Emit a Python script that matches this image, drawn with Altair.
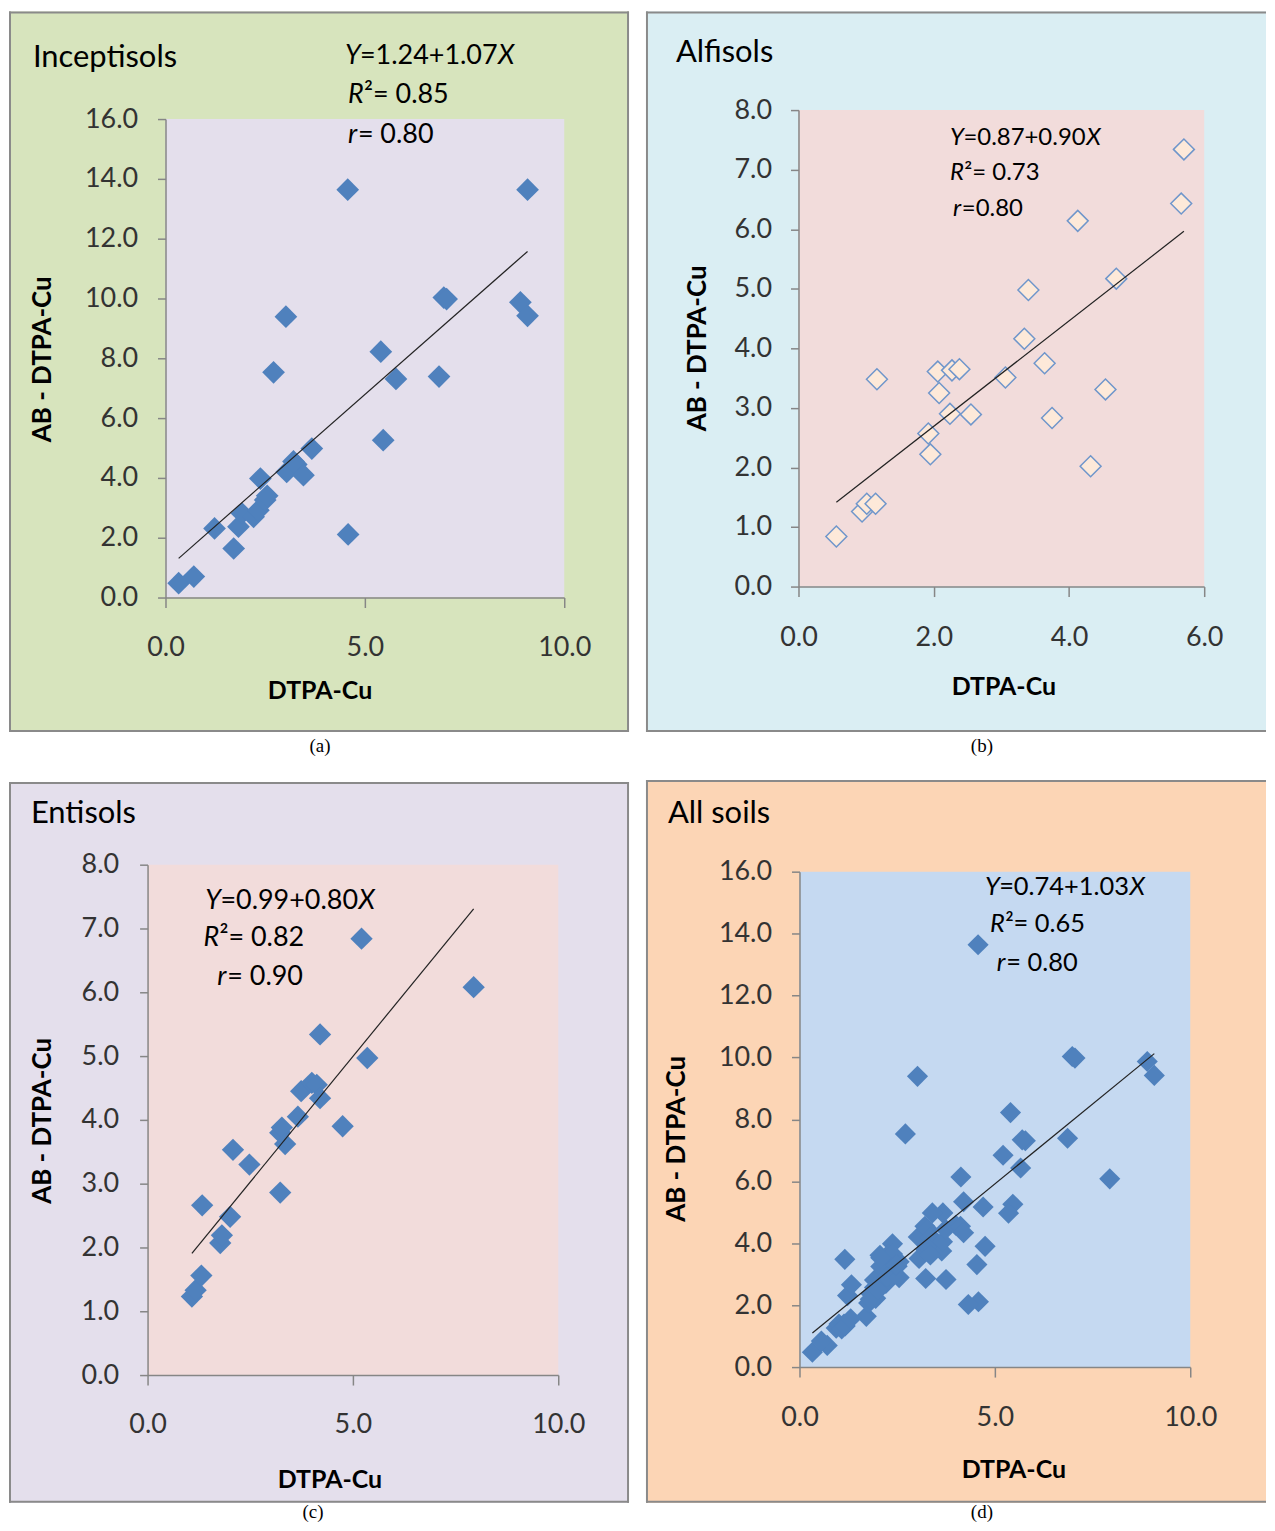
import altair as alt
import pandas as pd

# ---------------- data ----------------
# (a) Inceptisols
incept_x = [0.33, 0.71, 1.23, 1.71, 1.83, 1.92, 2.21, 2.33, 2.38, 2.50, 2.55, 2.71, 3.02, 3.04,
            3.21, 3.28, 3.46, 3.67, 4.57, 4.58, 5.40, 5.46, 5.78, 6.86, 6.98, 7.05, 8.90, 9.08, 9.08]
incept_y = [0.48, 0.70, 2.31, 1.64, 2.37, 2.81, 2.70, 2.92, 3.98, 3.26, 3.40, 7.53, 9.39, 4.20,
            4.55, 4.45, 4.09, 4.98, 13.64, 2.11, 8.22, 5.26, 7.31, 7.39, 10.03, 9.98, 9.87, 9.42, 13.64]
# (b) Alfisols
alfi_x = [0.56, 0.94, 1.01, 1.14, 1.16, 1.92, 1.95, 2.06, 2.08, 2.24, 2.27, 2.38, 2.55, 3.06,
          3.34, 3.40, 3.64, 3.75, 4.13, 4.32, 4.54, 4.70, 5.66, 5.70]
alfi_y = [0.84, 1.26, 1.39, 1.39, 3.48, 2.57, 2.22, 3.61, 3.25, 2.90, 3.63, 3.65, 2.89, 3.51,
          4.16, 4.98, 3.75, 2.83, 6.14, 2.02, 3.31, 5.17, 6.43, 7.34]
# (c) Entisols
enti_x = [1.08, 1.17, 1.31, 1.33, 1.77, 1.81, 2.01, 2.08, 2.48, 3.23, 3.23, 3.27, 3.35, 3.66,
          3.74, 4.00, 4.12, 4.20, 4.20, 4.75, 5.21, 5.35, 7.94]
enti_y = [1.23, 1.33, 1.56, 2.66, 2.07, 2.19, 2.48, 3.53, 3.30, 2.86, 3.80, 3.88, 3.62, 4.05,
          4.45, 4.58, 4.55, 4.34, 5.34, 3.90, 6.84, 4.97, 6.08]
# (d) All soils: the pooled samples (the Inceptisols point at 9.08 / 13.64 is not shown there)
all_x = incept_x[:-1] + alfi_x + enti_x
all_y = incept_y[:-1] + alfi_y + enti_y

# equation texts: (italic lead letter, rest, italic trailing letter)
EQ_A = [("Y", "=1.24+1.07", "X"), ("R", "²= 0.85", ""), ("r", "= 0.80", "")]
EQ_B = [("Y", "=0.87+0.90", "X"), ("R", "²= 0.73", ""), ("r", "=0.80", "")]
EQ_C = [("Y", "=0.99+0.80", "X"), ("R", "²= 0.82", ""), ("r", "= 0.90", "")]
EQ_D = [("Y", "=0.74+1.03", "X"), ("R", "²= 0.65", ""), ("r", "= 0.80", "")]

FONT = "Lato"
AX = "#868686"
BORDER = "#8A8A8A"
BLUE = "#4F81BD"
ONE = pd.DataFrame({"k": [0]})

# approximate Lato advance widths (em) used to chain italic/regular pieces
W_REG = {c: 0.58 for c in "0123456789=+"}
W_REG.update({".": 0.245, " ": 0.193, "²": 0.37})
W_IT = {"Y": 0.56, "R": 0.60, "X": 0.60, "r": 0.37}


def rect(x1, x2, y1, y2, **kw):
    return alt.Chart(ONE).mark_rect(**kw).encode(
        x=alt.value(x1), x2=alt.value(x2), y=alt.value(y1), y2=alt.value(y2))


def vline(x, y1, y2):
    return alt.Chart(ONE).mark_rule(color=BORDER, strokeWidth=2).encode(
        x=alt.value(x), y=alt.value(y1), y2=alt.value(y2))


def hline(y, x1, x2):
    return alt.Chart(ONE).mark_rule(color=BORDER, strokeWidth=2).encode(
        y=alt.value(y), x=alt.value(x1), x2=alt.value(x2))


def label(txt, x, y, size, weight="normal", align="left", angle=0, font=FONT, style="normal"):
    return alt.Chart(ONE).mark_text(
        text=txt, font=font, fontSize=size, fontWeight=weight, fontStyle=style, align=align,
        baseline="middle", angle=angle, color="black").encode(
        x=alt.value(x), y=alt.value(y))


def equation(parts, x, y, fs):
    lead, rest, tail = parts
    out = [label(lead, x, y, fs, style="italic")]
    x2 = x + W_IT[lead] * fs
    out.append(label(rest, x2, y, fs))
    if tail:
        x3 = x2 + sum(W_REG.get(ch, 0.55) for ch in rest) * fs
        out.append(label(tail, x3, y, fs, style="italic"))
    return out


def panel(xs, ys, p):
    df = pd.DataFrame({"x": xs, "y": ys})
    w, h = p["w"], p["h"]
    px0, px1, py0, py1 = p["plot"]
    xsc = alt.Scale(domain=p["xdom"], nice=False, zero=True, range=[px0, px1])
    ysc = alt.Scale(domain=p["ydom"], nice=False, zero=True, range=[py1, py0])
    xax = alt.Axis(values=p["xticks"], format=".1f", title=None, grid=False,
                   tickSize=10, tickWidth=1.5, tickColor=AX, domainColor=AX, domainWidth=1.5,
                   labelFont=FONT, labelFontSize=27, labelColor="#333333",
                   labelPadding=p["xpad"], labelBaseline="middle", labelFlush=False,
                   labelOverlap=False, zindex=1)
    yax = alt.Axis(values=p["yticks"], format=".1f", title=None, grid=False,
                   tickSize=8, tickWidth=1.5, tickColor=AX, domainColor=AX, domainWidth=1.5,
                   labelFont=FONT, labelFontSize=27, labelColor="#333333",
                   labelPadding=p["ypad"], labelAlign="right", labelBaseline="middle",
                   labelOverlap=False, offset=-px0, zindex=1)
    bL, bR, bT, bB = p["bound"]
    fL, fR, fT, fB = p["fill"]
    layers = [
        rect(bL, bR, bT, bB, opacity=0),
        rect(fL, fR, fT, fB, fill=p["outer_fill"]),
        vline(fL + 1, fT, fB),
        hline(fT + 1, fL, fR),
        hline(fB - 1, fL, fR),
    ]
    if p["right_border"]:
        layers.append(vline(fR - 1, fT, fB))
    layers.append(rect(px0, px1, py0, py1, fill=p["plot_fill"]))

    if p["hollow"]:
        pts = alt.Chart(df).mark_point(shape="diamond", filled=True, fill="#FDE9D9",
                                       stroke="#6F96CB", strokeWidth=1.5, opacity=1,
                                       size=p["msize"])
    else:
        pts = alt.Chart(df).mark_point(shape="diamond", filled=True, color=BLUE,
                                       opacity=1, size=p["msize"])
    pts = pts.encode(x=alt.X("x:Q", scale=xsc, axis=xax), y=alt.Y("y:Q", scale=ysc, axis=yax))
    line = alt.Chart(df).transform_regression("x", "y").mark_line(
        color="#222222", strokeWidth=1.2).encode(
        x=alt.X("x:Q", scale=xsc, axis=xax), y=alt.Y("y:Q", scale=ysc, axis=yax))
    layers += [pts, line]

    tx, ty = p["title"]
    layers.append(label(p["name"], tx, ty, 31))
    for parts, (ex, ey) in zip(p["eq"], p["eqpos"]):
        layers += equation(parts, ex, ey, p["eqsize"])
    yx, yy = p["ytitle"]
    layers.append(label("AB - DTPA-Cu", yx, yy, 26, weight="bold", align="center", angle=270))
    xx, xy = p["xtitle"]
    layers.append(label("DTPA-Cu", xx, xy, 25, weight="bold", align="center"))
    cx, cy = p["caption"]
    layers.append(label(p["cap"], cx, cy, 19, align="center", font="Liberation Serif"))
    return alt.layer(*layers).properties(width=w, height=h)


# coordinates below are pixel offsets from each panel's view origin
PA = dict(name="Inceptisols", cap="(a)", w=418, h=489, plot=(18, 418, 9, 489),
          xdom=[0, 10], ydom=[0, 16], xticks=[0, 5, 10], yticks=[0, 2, 4, 6, 8, 10, 12, 14, 16],
          xpad=40, ypad=20,
          bound=(-139, 483, -99, 658), fill=(-139, 483, -99, 624), right_border=True,
          outer_fill="#D7E4BD", plot_fill="#E4DFEC", hollow=False, msize=520,
          title=(-115, -52), eqsize=27, eq=EQ_A, eqpos=[(198, -54), (201, -15), (201, 25)],
          ytitle=(-105, 250), xtitle=(173, 583), caption=(173, 638))
PB = dict(name="Alfisols", cap="(b)", w=407, h=478, plot=(0, 407, 0, 478),
          xdom=[0, 6], ydom=[0, 8], xticks=[0, 2, 4, 6], yticks=[0, 1, 2, 3, 4, 5, 6, 7, 8],
          xpad=41, ypad=19,
          bound=(-153, 469, -99, 658), fill=(-153, 469, -99, 624), right_border=False,
          outer_fill="#DAEEF3", plot_fill="#F2DCDB", hollow=True, msize=440,
          title=(-123, -57), eqsize=24, eq=EQ_B, eqpos=[(152, 28), (152, 63), (155, 99)],
          ytitle=(-101, 239), xtitle=(206, 579), caption=(184, 638))
PC = dict(name="Entisols", cap="(c)", w=412, h=512, plot=(0, 412, 0, 512),
          xdom=[0, 10], ydom=[0, 8], xticks=[0, 5, 10], yticks=[0, 1, 2, 3, 4, 5, 6, 7, 8],
          xpad=40, ypad=21,
          bound=(-139, 483, -85, 659), fill=(-139, 483, -83, 640), right_border=True,
          outer_fill="#E4DFEC", plot_fill="#F2DCDB", hollow=False, msize=500,
          title=(-117, -51), eqsize=27, eq=EQ_C, eqpos=[(58, 36), (56, 74), (70, 113)],
          ytitle=(-105, 257), xtitle=(183, 617), caption=(166, 649))
PD = dict(name="All soils", cap="(d)", w=392, h=504, plot=(0, 392, 7, 504),
          xdom=[0, 10], ydom=[0, 16], xticks=[0, 5, 10], yticks=[0, 2, 4, 6, 8, 10, 12, 14, 16],
          xpad=41, ypad=20,
          bound=(-154, 468, -85, 659), fill=(-154, 468, -85, 640), right_border=False,
          outer_fill="#FCD5B5", plot_fill="#C5D9F1", hollow=False, msize=450,
          title=(-132, -51), eqsize=25.5, eq=EQ_D, eqpos=[(186, 22), (191, 60), (198, 99)],
          ytitle=(-123, 275), xtitle=(215, 607), caption=(183, 649))

pa = panel(incept_x, incept_y, PA)
pb = panel(alfi_x, alfi_y, PB)
pc = panel(enti_x, enti_y, PC)
pd_ = panel(all_x, all_y, PD)

chart = alt.vconcat(
    alt.hconcat(pa, pb, spacing=15),
    alt.hconcat(pc, pd_, spacing=15),
    spacing=13,
).properties(padding=0).configure_view(strokeWidth=0)

chart.save("out.html", embed_options={"renderer": "svg", "actions": False})
